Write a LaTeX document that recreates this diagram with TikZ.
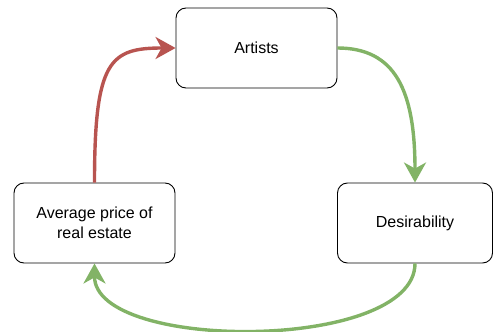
\documentclass[tikz,border=0pt]{standalone}
\usepackage{fontspec}
\setmainfont{Liberation Sans}
\usepackage{tikz}
\usetikzlibrary{arrows.meta}

\definecolor{loopred}{HTML}{B85450}
\definecolor{loopgreen}{HTML}{82B366}

\begin{document}
\begin{tikzpicture}[x=1pt,y=-1pt]
\useasboundingbox (0,0) rectangle (493,332);
\begin{scope}[every node/.style={rectangle,draw,rounded corners=10pt,line width=0.9pt,
	minimum height=80pt,inner sep=0pt,align=center,
	font=\fontsize{16}{19.5}\selectfont}]
	\node[minimum width=161pt] (artists) at (256.5,48) {Artists};
	\node[minimum width=155pt] (desire) at (415,223) {Desirability};
	\node[minimum width=161pt] (price) at (94.5,223) {Average price of\\
	real estate};
\end{scope}

\begin{scope}[line width=3.4pt]
	\draw[loopred,-{Stealth[length=20pt,width=22pt,inset=6pt]}] (price.north)
	 .. controls (94.5,60) and (110,48) .. (artists.west);
	\draw[loopgreen,-{Stealth[length=20pt,width=22pt,inset=6pt]}] (artists.east)
	 .. controls (395,48) and (415,90) .. (desire.north);
	\draw[loopgreen,-{Stealth[length=20pt,width=22pt,inset=6pt]}] (desire.south)
	 .. controls (415,352) and (94.5,352) .. (price.south);
\end{scope}

\end{tikzpicture}
\end{document}
